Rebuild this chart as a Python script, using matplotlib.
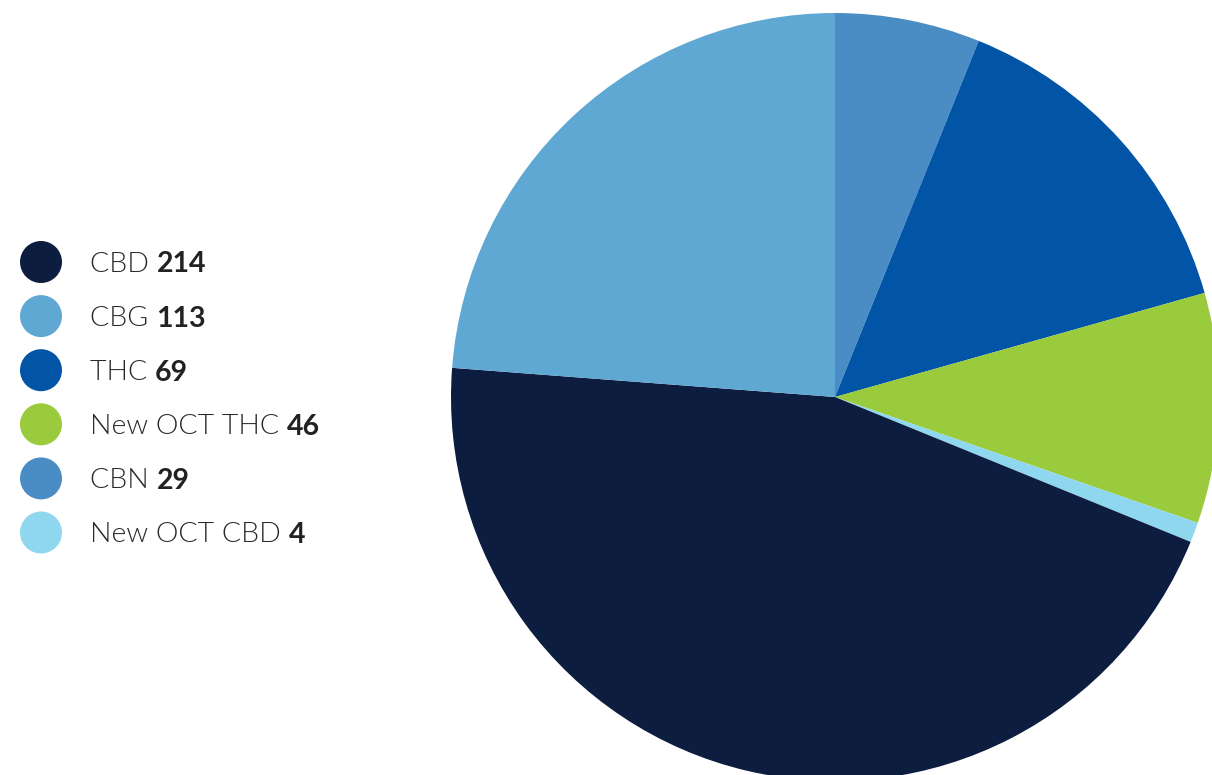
import matplotlib
matplotlib.use("Agg")
import matplotlib.pyplot as plt
from matplotlib.patches import Circle

labels = ["CBD", "CBG", "THC", "New OCT THC", "CBN", "New OCT CBD"]
values = [214, 113, 69, 46, 29, 4]
colors = ["#0c1d40", "#5fa8d3", "#0254a6", "#9acb3c", "#4a8dc4", "#8fd7ef"]

# pie drawing order (clockwise from top)
pie_order = ["CBN", "THC", "New OCT THC", "New OCT CBD", "CBD", "CBG"]

W, H = 1212, 775
fig = plt.figure(figsize=(W / 100, H / 100), dpi=100)
ax = fig.add_axes([0, 0, 1, 1])

idx = [labels.index(p) for p in pie_order]
ax.pie([values[i] for i in idx], colors=[colors[i] for i in idx],
       startangle=90, counterclock=False, center=(835, H - 397), radius=384,
       wedgeprops=dict(linewidth=0), frame=True)
ax.set_xlim(0, W)
ax.set_ylim(0, H)
ax.set_aspect("equal")
ax.axis("off")

fig.canvas.draw()
renderer = fig.canvas.get_renderer()
y0, dy = 262, 54.1
for k, (lab, val, col) in enumerate(zip(labels, values, colors)):
    yc = H - (y0 + k * dy)
    ax.add_patch(Circle((41, yc), 21, color=col, lw=0))
    t = ax.text(90, yc, lab + " ", fontsize=20.5, family="Lato", weight=300,
                color="#2a2a2a", va="center_baseline", ha="left")
    bb = t.get_window_extent(renderer=renderer)
    ax.text(bb.x1, yc, str(val), fontsize=20.5, family="Lato", weight="bold",
            color="#222222", va="center_baseline", ha="left")

fig.savefig("out.png", dpi=100)
